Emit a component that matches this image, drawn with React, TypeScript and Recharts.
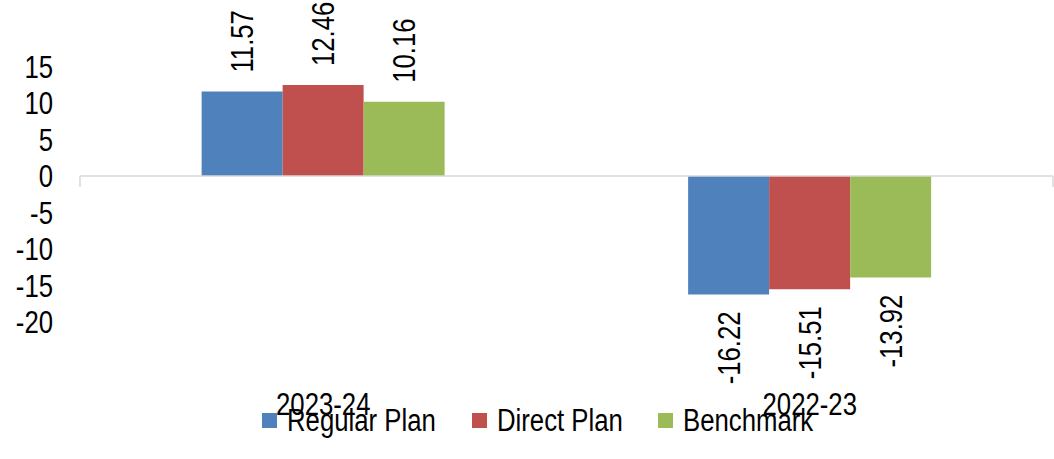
import React from 'react';
import { BarChart, Bar, XAxis, YAxis, Legend, ReferenceLine, LabelList } from 'recharts';

const categories = ['2023-24', '2022-23'];
const regularPlan = [11.57, -16.22];
const directPlan = [12.46, -15.51];
const benchmark = [10.16, -13.92];
const yTicks = [-20, -15, -10, -5, 0, 5, 10, 15];
const boundaryTicks = [0, 1, 2];

const seriesNames = ['Regular Plan', 'Direct Plan', 'Benchmark'];
const seriesKeys = ['regular', 'direct', 'bench'];
const seriesColors = ['#4F81BD', '#C0504D', '#9BBB59'];

const data = categories.map((c, i) => ({
  cat: c,
  regular: regularPlan[i],
  direct: directPlan[i],
  bench: benchmark[i],
}));

const FONT = "'Liberation Sans', Arial, sans-serif";
const FS = 31;
const SX = 0.83; // horizontal compression to mimic a narrow face

const renderLabel = (props: any) => {
  const { x, y, width, height, value } = props;
  const cx = Number(x) + Number(width) / 2;
  const y1 = Number(y);
  const y2 = Number(y) + Number(height);
  const top = Math.min(y1, y2);
  const bottom = Math.max(y1, y2);
  const pos = Number(value) >= 0;
  const py = pos ? top - 19 : bottom + 17;
  return (
    <g transform={`translate(${cx}, ${py}) rotate(-90) scale(${SX}, 1)`}>
      <text
        x={0}
        y={0}
        textAnchor={pos ? 'start' : 'end'}
        dominantBaseline="central"
        fontFamily={FONT}
        fontSize={FS}
        fill="#000"
      >
        {Number(value).toFixed(2)}
      </text>
    </g>
  );
};

const CatTick = (props: any) => {
  const { x, y, payload } = props;
  return (
    <g transform={`translate(${x}, ${y}) scale(${SX}, 1)`}>
      <text x={0} y={0} dy={93} textAnchor="middle" fontFamily={FONT} fontSize={FS} fill="#000">
        {payload.value}
      </text>
    </g>
  );
};

const YTick = (props: any) => {
  const { x, y, payload } = props;
  return (
    <g transform={`translate(${x}, ${y}) scale(${SX}, 1)`}>
      <text x={0} y={0} dy="0.36em" textAnchor="end" fontFamily={FONT} fontSize={FS} fill="#000">
        {payload.value}
      </text>
    </g>
  );
};

const legendItemWidths = [210, 186, 180];

const LegendContent = () => (
  <div style={{ display: 'flex', alignItems: 'center', fontFamily: FONT, fontSize: FS, color: '#000', lineHeight: '31px' }}>
    {seriesNames.map((n, i) => (
      <div key={n} style={{ display: 'flex', alignItems: 'center', width: legendItemWidths[i], whiteSpace: 'nowrap' }}>
        <div style={{ width: 15, height: 15, background: seriesColors[i], marginRight: 10, flex: 'none' }} />
        <span style={{ display: 'inline-block', transform: `scaleX(${SX})`, transformOrigin: '0 50%' }}>{n}</span>
      </div>
    ))}
  </div>
);

export default function App() {
  return (
    <div style={{ position: 'absolute', left: 0, top: 0, width: 1054, height: 459, background: '#fff' }}>
      <BarChart
        width={1054}
        height={459}
        data={data}
        margin={{ top: 66.5, right: 1, bottom: 107, left: 0 }}
        barCategoryGap="25%"
        barGap={0}
      >
        <XAxis
          dataKey="cat"
          height={30}
          axisLine={false}
          tickLine={false}
          tickSize={0}
          tickMargin={0}
          tick={<CatTick />}
          interval={0}
        />
        <XAxis xAxisId="b" type="number" domain={[0, 2]} ticks={boundaryTicks} allowDataOverflow hide />
        <YAxis
          width={80}
          domain={[-20, 15]}
          ticks={yTicks}
          interval={0}
          axisLine={false}
          tickLine={false}
          tickSize={0}
          tickMargin={27}
          tick={<YTick />}
        />
        <Legend
          verticalAlign="middle"
          align="center"
          layout="horizontal"
          content={<LegendContent />}
          wrapperStyle={{ position: 'absolute', top: 405, left: 262, width: 'auto' }}
        />
        {seriesKeys.map((k, i) => (
          <Bar key={k} dataKey={k} name={seriesNames[i]} fill={seriesColors[i]} isAnimationActive={false}>
            <LabelList dataKey={k} content={renderLabel} />
          </Bar>
        ))}
        <ReferenceLine y={0} stroke="#d9d9d9" strokeWidth={1.5} />
        {boundaryTicks.map((t) => (
          <ReferenceLine
            key={t}
            xAxisId="b"
            segment={[{ x: t, y: 0 }, { x: t, y: -1.5 }]}
            stroke="#d9d9d9"
            strokeWidth={1.5}
          />
        ))}
      </BarChart>
    </div>
  );
}
